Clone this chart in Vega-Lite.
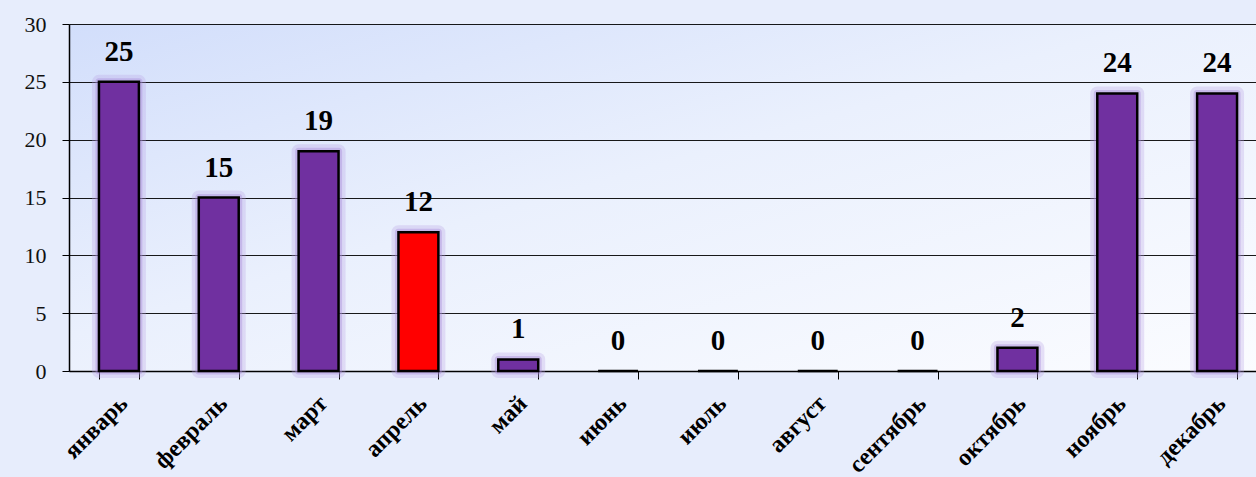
{
  "$schema": "https://vega.github.io/schema/vega-lite/v6.json",
  "width": 1198,
  "height": 347,
  "autosize": {"type": "none"},
  "padding": {"left": 69, "top": 24, "right": 0, "bottom": 106},
  "background": "#e7edfc",
  "config": {
    "view": {
      "stroke": null,
      "fill": {
        "gradient": "linear",
        "x1": 0, "y1": 0, "x2": 1, "y2": 1,
        "stops": [
          {"offset": 0, "color": "#d2defb"},
          {"offset": 0.45, "color": "#eaf0fd"},
          {"offset": 1, "color": "#fbfcff"}
        ]
      }
    },
    "font": "Liberation Serif"
  },
  "data": {
    "values": [
      {"month": "январь", "value": 25},
      {"month": "февраль", "value": 15},
      {"month": "март", "value": 19},
      {"month": "апрель", "value": 12},
      {"month": "май", "value": 1},
      {"month": "июнь", "value": 0},
      {"month": "июль", "value": 0},
      {"month": "август", "value": 0},
      {"month": "сентябрь", "value": 0},
      {"month": "октябрь", "value": 2},
      {"month": "ноябрь", "value": 24},
      {"month": "декабрь", "value": 24}
    ]
  },
  "encoding": {
    "x": {
      "field": "month",
      "type": "nominal",
      "sort": ["январь", "февраль", "март", "апрель", "май", "июнь", "июль", "август", "сентябрь", "октябрь", "ноябрь", "декабрь"],
      "scale": {"paddingInner": 0.6, "paddingOuter": 0.3},
      "axis": {
        "title": null,
        "labelAngle": -45,
        "labelFont": "Liberation Serif",
        "labelFontWeight": "bold",
        "labelFontSize": 24,
        "labelColor": "#000000",
        "labelPadding": 12,
        "labelOffset": -4,
        "tickBand": "extent",
        "tickColor": "#000000",
        "tickSize": 8,
        "domainColor": "#000000",
        "domainWidth": 1.5,
        "grid": false
      }
    },
    "y": {
      "field": "value",
      "type": "quantitative",
      "scale": {"domain": [0, 30], "nice": false},
      "axis": {
        "title": null,
        "values": [0, 5, 10, 15, 20, 25, 30],
        "labelFont": "Liberation Serif",
        "labelFontSize": 22,
        "labelColor": "#111111",
        "labelPadding": 16,
        "tickColor": "#000000",
        "tickSize": 7,
        "domainColor": "#000000",
        "domainWidth": 1.5,
        "gridColor": "#000000",
        "gridWidth": 1,
        "gridOpacity": 0.9
      }
    }
  },
  "layer": [
    {
      "transform": [{"filter": "datum.value > 0"}],
      "mark": {"type": "bar", "fill": "#b9a2e4", "stroke": "#b9a2e4", "strokeWidth": 14, "strokeOpacity": 0.3, "fillOpacity": 0.3, "strokeJoin": "round"}
    },
    {
      "transform": [{"filter": "datum.value > 0"}],
      "mark": {"type": "bar", "fill": "#a88ad9", "stroke": "#a88ad9", "strokeWidth": 7, "strokeOpacity": 0.4, "strokeJoin": "round"}
    },
    {
      "mark": {"type": "bar", "stroke": "#000000", "strokeWidth": 2.5},
      "encoding": {
        "fill": {
          "condition": {"test": "datum.month === 'апрель'", "value": "#ff0000"},
          "value": "#7030a0"
        }
      }
    },
    {
      "mark": {"type": "text", "baseline": "middle", "dy": -30, "font": "Liberation Serif", "fontWeight": "bold", "fontSize": 29, "color": "#000000"},
      "encoding": {"text": {"field": "value", "type": "quantitative"}}
    }
  ]
}
